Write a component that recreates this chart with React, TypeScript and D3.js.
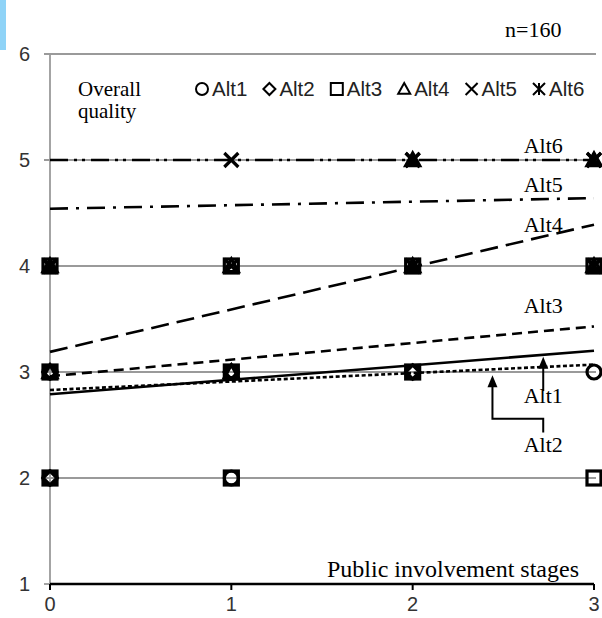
import * as React from 'react';
import { scaleLinear } from 'd3';

// stages on the x axis and quality scores on the y axis
const stages = [0, 1, 2, 3];
const yTicks = [1, 2, 3, 4, 5, 6];
const gridValues = [2, 3, 4, 5, 6];

const altNames = ['Alt1', 'Alt2', 'Alt3', 'Alt4', 'Alt5', 'Alt6'];
const altMarkers = ['circle', 'diamond', 'square', 'triangle', 'x', 'star'];
const altDashes = ['', '4,2.5', '10,6', '18,8', '18,8,3,8', '18,6,3,5,3,6'];

// linear trend of each alternative, value at stage 0 and stage 3
const trendStart = [2.79, 2.83, 2.96, 3.19, 4.54, 5.0];
const trendEnd = [3.2, 3.07, 3.43, 4.39, 4.64, 5.0];

// observed answers, [stage, score]
const alt1Points = [[0, 2], [0, 3], [1, 2], [1, 3], [2, 3], [3, 3]];
const alt2Points = [[0, 2], [0, 3], [1, 3], [2, 3]];
const alt3Points = [[0, 2], [0, 3], [0, 4], [1, 2], [1, 3], [1, 4], [2, 3], [2, 4], [3, 2], [3, 4]];
const alt4Points = [[0, 3], [0, 4], [1, 3], [1, 4], [2, 4], [2, 5], [3, 4], [3, 5]];
const alt5Points = [[0, 4], [1, 4], [1, 5], [2, 4], [2, 5], [3, 4], [3, 5]];
const alt6Points = [[0, 4], [2, 4], [2, 5], [3, 4], [3, 5]];
const altPoints = [alt1Points, alt2Points, alt3Points, alt4Points, alt5Points, alt6Points];

// where the series names sit, in data units
const labelStage = 2.72;
const labelScore = [2.71, 2.245, 3.56, 4.32, 4.7, 5.07];

const W = 602;
const H = 618;
const serif = '"Liberation Serif", "Times New Roman", serif';
const sans = '"Liberation Sans", Arial, sans-serif';

function Marker({ kind, cx, cy, r, sw }: { kind: string; cx: number; cy: number; r: number; sw: number }) {
  const common = { fill: 'none', stroke: '#000', strokeWidth: sw };
  if (kind === 'circle') return <circle cx={cx} cy={cy} r={r} {...common} />;
  if (kind === 'square') return <rect x={cx - r} y={cy - r} width={2 * r} height={2 * r} {...common} />;
  let d = '';
  if (kind === 'diamond') d = `M${cx},${cy - r}L${cx + r},${cy}L${cx},${cy + r}L${cx - r},${cy}Z`;
  if (kind === 'triangle') d = `M${cx},${cy - r}L${cx + r},${cy + r * 0.8}L${cx - r},${cy + r * 0.8}Z`;
  if (kind === 'x') d = `M${cx - r},${cy - r}L${cx + r},${cy + r}M${cx + r},${cy - r}L${cx - r},${cy + r}`;
  if (kind === 'star')
    d = `M${cx - r},${cy - r}L${cx + r},${cy + r}M${cx + r},${cy - r}L${cx - r},${cy + r}M${cx},${cy - r}L${cx},${cy + r}`;
  return <path d={d} {...common} strokeLinejoin="miter" />;
}

export default function App() {
  const x = scaleLinear().domain([0, 3]).range([50, 594]);
  const y = scaleLinear().domain([1, 6]).range([584, 54]);

  const trendAt = (k: number, s: number) => trendStart[k] + ((trendEnd[k] - trendStart[k]) * s) / 3;

  const a1x = x(2.72);
  const a2x = x(2.44);
  const a1tip = y(trendAt(0, 2.72)) + 2;
  const a2tip = y(trendAt(1, 2.44)) + 6;

  return (
    <svg width={W} height={H} style={{ position: 'absolute', left: 0, top: 0, background: '#fff' }}>
      <rect x={0} y={0} width={6} height={50} fill="#8fd3f7" />

      {/* grid */}
      {gridValues.map(v => (
        <line key={v} x1={x(0) - 6} x2={x(3) + 2} y1={y(v)} y2={y(v)} stroke="#9a9a9a" strokeWidth={1.8} />
      ))}
      <line x1={x(0) - 6} x2={x(0)} y1={y(1)} y2={y(1)} stroke="#9a9a9a" strokeWidth={1.8} />
      <line x1={x(0)} x2={x(0)} y1={y(6)} y2={y(1)} stroke="#9a9a9a" strokeWidth={1.8} />

      {/* x axis */}
      <line x1={x(0)} x2={x(3)} y1={y(1)} y2={y(1)} stroke="#000" strokeWidth={2.5} />
      {stages.map(s => (
        <g key={s}>
          <line x1={x(s)} x2={x(s)} y1={y(1)} y2={y(1) + 6} stroke="#000" strokeWidth={2} />
          <text x={x(s)} y={611} textAnchor="middle" fontFamily={sans} fontSize={20} fill="#333">{s}</text>
        </g>
      ))}
      {yTicks.map(v => (
        <text key={v} x={30} y={y(v) + 7} textAnchor="end" fontFamily={sans} fontSize={20} fill="#333">{v}</text>
      ))}

      {/* markers */}
      {altPoints.map((pts, k) =>
        pts.map((p, j) => (
          <Marker key={`${k}-${j}`} kind={altMarkers[k]} cx={x(p[0])} cy={y(p[1])} r={7} sw={3.2} />
        ))
      )}

      {/* trend lines */}
      {altNames.map((n, k) => (
        <line
          key={n}
          x1={x(0)}
          x2={x(3)}
          y1={y(trendStart[k])}
          y2={y(trendEnd[k])}
          stroke="#000"
          strokeWidth={2.6}
          strokeDasharray={altDashes[k] || undefined}
        />
      ))}

      {/* series labels */}
      {altNames.map((n, k) => (
        <text key={n} x={x(labelStage)} y={y(labelScore[k])} textAnchor="middle" fontFamily={serif} fontSize={22} fill="#000">
          {n}
        </text>
      ))}

      {/* arrows */}
      <line x1={a1x} x2={a1x} y1={a1tip + 8} y2={y(2.82)} stroke="#000" strokeWidth={2} />
      <path d={`M${a1x},${a1tip}l-5,12l10,0Z`} fill="#000" />
      <path
        d={`M${a1x},${y(2.43)}V${y(2.56)}H${a2x}V${a2tip + 8}`}
        fill="none"
        stroke="#000"
        strokeWidth={2}
      />
      <path d={`M${a2x},${a2tip}l-5,12l10,0Z`} fill="#000" />

      {/* legend */}
      <text x={78} y={96} fontFamily={serif} fontSize={21}>Overall</text>
      <text x={78} y={118} fontFamily={serif} fontSize={21}>quality</text>
      {altNames.map((n, k) => {
        const lx = 202 + k * 67.4;
        return (
          <g key={n}>
            <Marker kind={altMarkers[k]} cx={lx} cy={89} r={6} sw={2} />
            <text x={lx + 10} y={96} fontFamily={sans} fontSize={20.5} fill="#222">{n}</text>
          </g>
        );
      })}

      <text x={505} y={37} fontFamily={serif} fontSize={22}>n=160</text>
      <text x={327} y={577} fontFamily={serif} fontSize={24}>Public involvement stages</text>
    </svg>
  );
}
